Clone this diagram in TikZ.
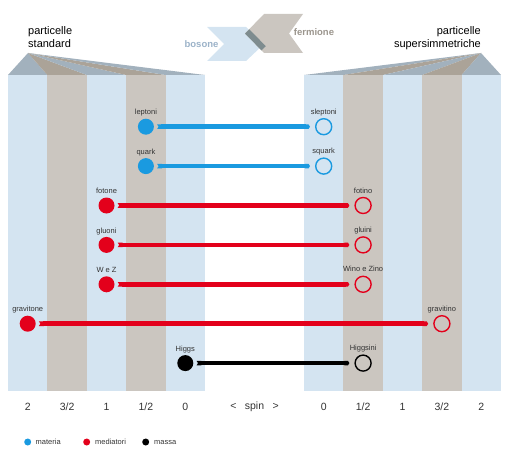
\documentclass[tikz,border=0pt]{standalone}
\usepackage{fontspec}
\setmainfont{Liberation Sans}
\usetikzlibrary{arrows.meta}

\definecolor{colblue}{HTML}{D4E4F1}
\definecolor{coltaupe}{HTML}{CBC6C0}
\definecolor{roofblue}{HTML}{A2B1BD}
\definecolor{rooftaupe}{HTML}{ABA398}
\definecolor{matblue}{HTML}{1A9AE0}
\definecolor{medred}{HTML}{E3001B}
\definecolor{barslate}{HTML}{7E8C8F}
\definecolor{bostext}{HTML}{9BB2C8}
\definecolor{fertext}{HTML}{9B958D}

\begin{document}
\begin{tikzpicture}[x=1pt, y=-1pt,
    full/.style={circle, inner sep=0pt, minimum size=16pt},
    hollow/.style={circle, draw, line width=1.4pt, inner sep=0pt, minimum size=16pt},
    plabel/.style={font=\fontsize{7.5}{8}\selectfont, text=black!80, inner sep=1pt,
                   text height=5.5pt, text depth=1.5pt},
    link/.style={line width=4.6pt, shorten <=3pt, shorten >=5pt,
                 {Triangle Cap[reversed, length=1.5pt]}-{Triangle Cap[length=1.5pt]}},
    spinlab/.style={font=\fontsize{10.5}{12}\selectfont, text=black!80},
    dot/.style={circle, inner sep=0pt, minimum size=7pt},
    dottext/.style={font=\fontsize{7.5}{8}\selectfont, text=black!80, anchor=west, inner sep=0pt,
                    text height=5.5pt, text depth=1.5pt}]

    \useasboundingbox (0,0) rectangle (529,465);

    % columns and roofs
    \foreach \i in {0,...,4}{
        \ifodd\i \def\colr{coltaupe}\def\roofc{rooftaupe}\else \def\colr{colblue}\def\roofc{roofblue}\fi
        \fill[\colr] (8+39.4*\i,75) rectangle (47.4+39.4*\i,391);
        \fill[\roofc] (28,53) -- (8+39.4*\i,75) -- (47.4+39.4*\i,75) -- cycle;
        \fill[\colr] (304+39.4*\i,75) rectangle (343.4+39.4*\i,391);
        \fill[\roofc] (481,53) -- (304+39.4*\i,75) -- (343.4+39.4*\i,75) -- cycle;
    }

    \node[font=\fontsize{11}{12.5}\selectfont, align=left, anchor=north west, inner sep=0pt]
        (std) at (28,26.5) {particelle\\standard};
    \node[font=\fontsize{11}{12.5}\selectfont, align=right, anchor=north east, inner sep=0pt]
        (susy) at (481,26.5) {particelle\\supersimmetriche};

    % bosone / fermione
    \fill[colblue] (207,27) -- (246,27) -- (264,44) -- (246,61) -- (207,61) -- (224,44) -- cycle;
    \fill[coltaupe] (264,14) -- (303,14) -- (289,33.5) -- (303,53) -- (264,53) -- (245,33.5) -- cycle;
    \fill[barslate] (245,33.5) -- (261.5,50.4) -- (265.8,46.2) -- (249.3,29.3) -- cycle;
    \node[font=\fontsize{9.5}{10}\selectfont\bfseries, text=bostext] (bos) at (201.5,44) {bosone};
    \node[font=\fontsize{9.5}{10}\selectfont\bfseries, text=fertext] (fer) at (314,32) {fermione};

    % standard particles
    \node[full, fill=matblue, label={[plabel, label distance=1pt]above:leptoni}] (lep) at (145.9,126.7) {};
    \node[full, fill=matblue, label={[plabel, label distance=1pt]above:quark}] (qrk) at (145.9,166.1) {};
    \node[full, fill=medred, label={[plabel, label distance=1pt]above:fotone}] (fot) at (106.5,205.5) {};
    \node[full, fill=medred, label={[plabel, label distance=1pt]above:gluoni}] (glu) at (106.5,244.9) {};
    \node[full, fill=medred, label={[plabel, label distance=1pt]above:W e Z}] (wz) at (106.5,284.3) {};
    \node[full, fill=medred, label={[plabel, label distance=1pt]above:gravitone}] (grv) at (27.7,323.7) {};
    \node[full, fill=black, label={[plabel, label distance=1pt]above:Higgs}] (hig) at (185.3,363.1) {};

    % supersymmetric partners
    \node[hollow, draw=matblue, label={[plabel, label distance=1pt]above:sleptoni}] (slep) at (323.7,126.7) {};
    \node[hollow, draw=matblue, label={[plabel, label distance=1pt]above:squark}] (sqrk) at (323.7,166.1) {};
    \node[hollow, draw=medred, label={[plabel, label distance=1pt]above:fotino}] (fotn) at (363.1,205.5) {};
    \node[hollow, draw=medred, label={[plabel, label distance=1pt]above:gluini}] (glun) at (363.1,244.9) {};
    \node[hollow, draw=medred, label={[plabel, label distance=1pt]above:Wino e Zino}] (wzn) at (363.1,284.3) {};
    \node[hollow, draw=medred, label={[plabel, label distance=1pt]above:gravitino}] (grvn) at (441.9,323.7) {};
    \node[hollow, draw=black, label={[plabel, label distance=1pt]above:Higgsini}] (higs) at (363.1,363.1) {};

    \draw[link, matblue] (lep) -- (slep);
    \draw[link, matblue] (qrk) -- (sqrk);
    \draw[link, medred] (fot) -- (fotn);
    \draw[link, medred] (glu) -- (glun);
    \draw[link, medred] (wz) -- (wzn);
    \draw[link, medred] (grv) -- (grvn);
    \draw[link, black] (hig) -- (higs);

    % spin axis
    \foreach \v [count=\i from 0] in {2,3/2,1,1/2,0}
        \node[spinlab] (ls\i) at (27.7+39.4*\i,407) {\v};
    \foreach \v [count=\i from 0] in {0,1/2,1,3/2,2}
        \node[spinlab] (rs\i) at (323.7+39.4*\i,407) {\v};
    \node[spinlab] (spin) at (254.5,407) {<\hspace{0.8em}spin\hspace{0.8em}>};

    % legend
    \node[dot, fill=matblue] (kmat) at (27.7,442) {};
    \node[dottext] (tmat) at (35.5,442) {materia};
    \node[dot, fill=medred] (kmed) at (86.7,442) {};
    \node[dottext] (tmed) at (95,442) {mediatori};
    \node[dot, fill=black] (kmas) at (145.7,442) {};
    \node[dottext] (tmas) at (154,442) {massa};

\end{tikzpicture}
\end{document}
